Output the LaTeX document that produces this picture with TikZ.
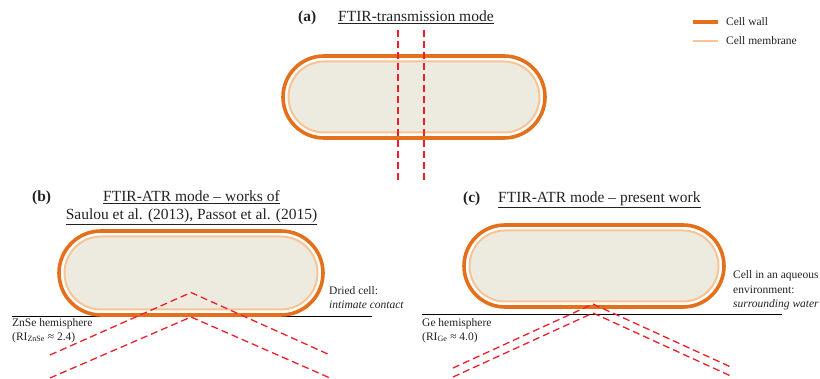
\documentclass[tikz,border=0pt]{standalone}
\usepackage{fontspec}
\setmainfont{Liberation Serif}
\definecolor{wallc}{RGB}{228,112,28}
\definecolor{membc}{RGB}{248,196,150}
\definecolor{cytoc}{RGB}{237,234,224}
\definecolor{beamc}{RGB}{240,30,40}
\definecolor{inkc}{RGB}{34,34,34}
\tikzset{
  wall/.style={draw=wallc, line width=3.6pt, fill=white},
  membrane/.style={draw=membc, line width=2pt, fill=cytoc},
  beam/.style={draw=beamc, line width=1.3pt, dash pattern=on 7pt off 4pt},
  crystal/.style={draw=black, line width=1.4pt},
  title/.style={font=\fontsize{15.5}{18}\selectfont, text=inkc, inner sep=0pt},
  lbl/.style={font=\fontsize{11.5}{13.5}\selectfont, text=inkc, inner sep=0pt, align=left},
}
\begin{document}
\begin{tikzpicture}[x=1pt, y=-1pt]
\useasboundingbox (0,0) rectangle (820,379);

% ---------- legend ----------
\coordinate (lw1) at (693,22);  \coordinate (lw2) at (718,22);
\coordinate (lm1) at (693,41);  \coordinate (lm2) at (718,41);
\draw[draw=wallc, line width=3.6pt] (lw1) -- (lw2);
\draw[draw=membc, line width=2.6pt] (lm1) -- (lm2);
\node[lbl, anchor=base west] (lgw) at (726,25.5) {Cell wall};
\node[lbl, anchor=base west] (lgm) at (726,44.5) {Cell membrane};

% ---------- (a) transmission ----------
\node[title, anchor=base west, font=\fontsize{15.5}{18}\selectfont\bfseries] (ta) at (298,21.5) {(a)};
\node[title, anchor=base west] (tat) at (338,21.5) {\underline{FTIR-transmission mode}};
\draw[wall, rounded corners=41pt] (283,56) rectangle (545,138);
\draw[membrane, rounded corners=35.5pt] (288.5,61.5) rectangle (539.5,132.5);
\coordinate (a1t) at (398,30);  \coordinate (a1b) at (398,180);
\coordinate (a2t) at (424,30);  \coordinate (a2b) at (424,180);
\draw[beam] (a1t) -- (a1b);
\draw[beam] (a2t) -- (a2b);

% ---------- (b) ATR, dried cell ----------
\node[title, anchor=base west, font=\fontsize{15.5}{18}\selectfont\bfseries] (tb) at (32,201.5) {(b)};
\node[title, anchor=base] (tb1) at (191.5,201.5) {\underline{FTIR-ATR mode – works of}};
\node[title, anchor=base] (tb2) at (191.5,219.5) {\underline{Saulou et al. (2013), Passot et al. (2015)}};
\coordinate (bl1) at (12,316.5); \coordinate (bl2) at (372,316.5);
\draw[crystal] (bl1) -- (bl2);
\draw[wall, rounded corners=42pt] (59,231) rectangle (323,315);
\draw[membrane, rounded corners=36.5pt] (64.5,236.5) rectangle (317.5,309.5);
\coordinate (bu1) at (50,355);  \coordinate (bua) at (191,292.5); \coordinate (bu2) at (330,355);
\coordinate (bd1) at (50,378);  \coordinate (bda) at (191,317);   \coordinate (bd2) at (330,378);
\draw[beam] (bu1) -- (bua) -- (bu2);
\draw[beam] (bd1) -- (bda) -- (bd2);
\node[lbl, anchor=north west] (bdry) at (329,286.5) {Dried cell:\\\itshape intimate contact};
\node[lbl, anchor=north west] (bznse) at (12,318.5) {ZnSe hemisphere\\(RI\textsubscript{ZnSe} ≈ 2.4)};

% ---------- (c) ATR, cell in water ----------
\node[title, anchor=base west, font=\fontsize{15.5}{18}\selectfont\bfseries] (tc) at (463,202.5) {(c)};
\node[title, anchor=base west] (tct) at (498,202.5) {\underline{FTIR-ATR mode – present work}};
\coordinate (cl1) at (422,314.5); \coordinate (cl2) at (782,314.5);
\draw[crystal] (cl1) -- (cl2);
\draw[wall, rounded corners=41pt] (464,225) rectangle (724,307);
\draw[membrane, rounded corners=35.5pt] (469.5,230.5) rectangle (718.5,301.5);
\coordinate (cu1) at (453,368);  \coordinate (cua) at (593,304); \coordinate (cu2) at (733,368);
\coordinate (cd1) at (453,377);  \coordinate (cda) at (593,313); \coordinate (cd2) at (733,377);
\draw[beam] (cu1) -- (cua) -- (cu2);
\draw[beam] (cd1) -- (cda) -- (cd2);
\node[lbl, anchor=north west, font=\fontsize{11.5}{14.5}\selectfont] (caq) at (733,270.5) {Cell in an aqueous\\environment:\\\itshape surrounding water};
\node[lbl, anchor=north west] (cge) at (422,318.5) {Ge hemisphere\\(RI\textsubscript{Ge} ≈ 4.0)};
\end{tikzpicture}
\end{document}
